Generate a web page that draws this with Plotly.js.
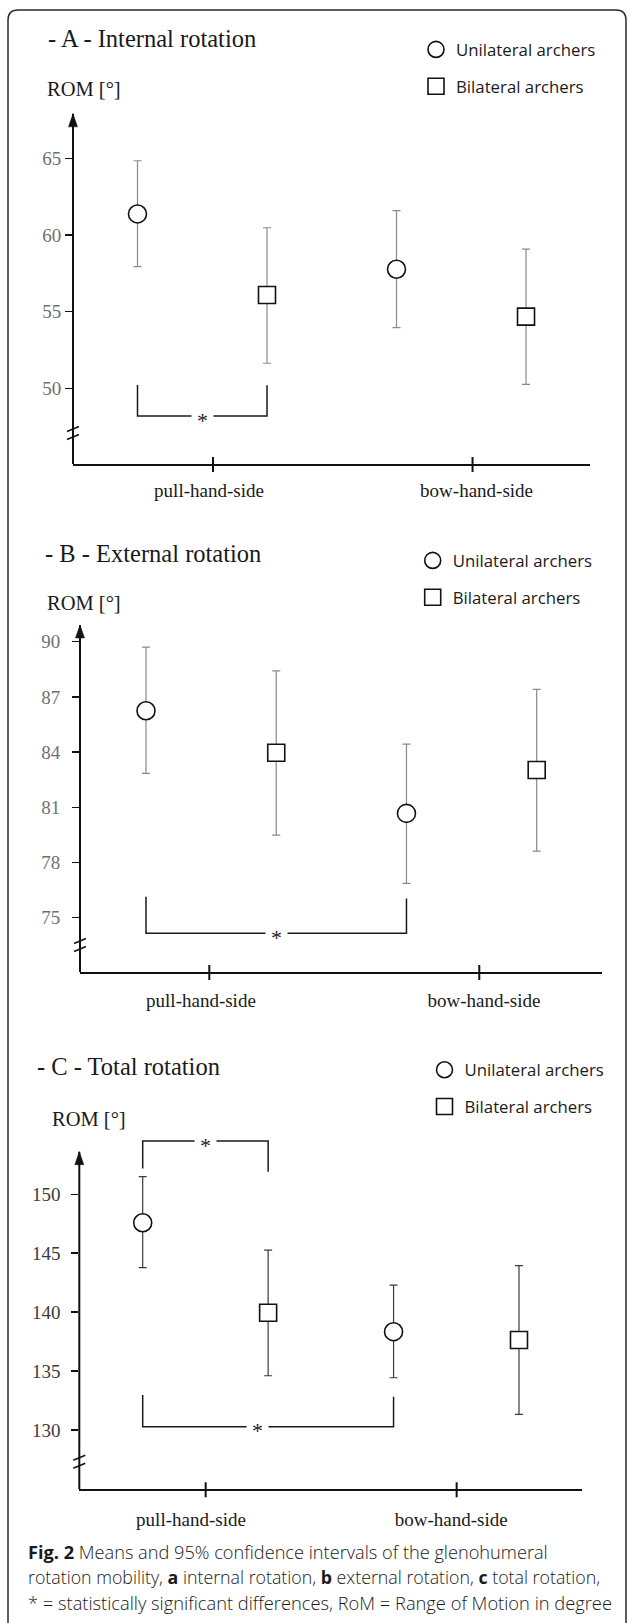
<!DOCTYPE html>
<html>
<head>
<meta charset="utf-8">
<script src="https://cdn.plot.ly/plotly-3.0.1.min.js"></script>
<style>
html, body { margin: 0; padding: 0; background: #ffffff; }
#chart { width: 627px; height: 1623px; }
</style>
</head>
<body>
<div id="chart"></div>
<script>
// ---------------- data ----------------
const sides = ['pull-hand-side', 'bow-hand-side'];
const groups = ['Unilateral archers', 'Bilateral archers'];

// A - internal rotation (mean, lower / upper 95% CI)
const intUniMean = [61.37, 57.76];
const intUniLow  = [57.93, 53.96];
const intUniHigh = [64.84, 61.58];
const intBiMean  = [56.08, 54.67];
const intBiLow   = [51.63, 50.26];
const intBiHigh  = [60.47, 59.08];
const intTicks   = [50, 55, 60, 65];

// B - external rotation
const extUniMean = [86.25, 80.67];
const extUniLow  = [82.85, 76.87];
const extUniHigh = [89.71, 84.44];
const extBiMean  = [83.97, 83.03];
const extBiLow   = [79.49, 78.62];
const extBiHigh  = [88.42, 87.41];
const extTicks   = [75, 78, 81, 84, 87, 90];

// C - total rotation
const totUniMean = [147.59, 138.34];
const totUniLow  = [143.77, 134.43];
const totUniHigh = [151.50, 142.30];
const totBiMean  = [139.95, 137.63];
const totBiLow   = [134.60, 131.32];
const totBiHigh  = [145.27, 143.94];
const totTicks   = [130, 135, 140, 145, 150];

// significance brackets: [from slot, to slot, bar level, left leg end, right leg end]
const intSig = [[1, 2, 48.19, 50.22, 50.20]];
const extSig = [[1, 3, 74.15, 76.14, 76.05]];
const totSig = [[1, 2, 154.52, 152.20, 151.92], [1, 3, 130.27, 132.96, 132.82]];

const captionLines = [
  '<b>Fig. 2</b> Means and 95% confidence intervals of the glenohumeral',
  'rotation mobility, <b>a</b> internal rotation, <b>b</b> external rotation, <b>c</b> total rotation,',
  '* = statistically significant differences, RoM = Range of Motion in degree'
];

// ---------------- layout helpers ----------------
const W = 627, H = 1623;
const X = px => px / W;
const Y = py => 1 - py / H;
const SERIF = 'Liberation Serif, Times New Roman, serif';
const SANS = 'Open Sans, Noto Sans, sans-serif';

const panels = [
  { title: '- A - Internal rotation', uni: [intUniMean, intUniLow, intUniHigh], bi: [intBiMean, intBiLow, intBiHigh],
    ticks: intTicks, sig: intSig, starShift: [0],
    dom: { x0: 73, x1: 590, y0: 108, y1: 464 }, xr: [0.502, 4.494], yr: [45.06, 68.28],
    labelPos: [1.552, 3.618], tickPos: [1.583, 3.587], tip: 67.9, brk: 47.08,
    titleXY: [46, 38], romXY: [45, 89], legXY: [436, 48],
    tickColor: '#707070', errColor: '#8a8a8a', xStand: 8, yStand: 8.5 },
  { title: '- B - External rotation', uni: [extUniMean, extUniLow, extUniHigh], bi: [extBiMean, extBiLow, extBiHigh],
    ticks: extTicks, sig: extSig, starShift: [0],
    dom: { x0: 80, x1: 602, y0: 618, y1: 972 }, xr: [0.4932, 4.5014], yr: [72.05, 91.29],
    labelPos: [1.422, 3.595], tickPos: [1.486, 3.559], tip: 90.91, brk: 73.52,
    titleXY: [43, 553], romXY: [45, 603], legXY: [432.7, 559],
    tickColor: '#707070', errColor: '#8a8a8a', xStand: 10, yStand: 8 },
  { title: '- C - Total rotation', uni: [totUniMean, totUniLow, totUniHigh], bi: [totBiMean, totBiLow, totBiHigh],
    ticks: totTicks, sig: totSig, starShift: [0, -11],
    dom: { x0: 79.3, x1: 581.7, y0: 1130, y1: 1489.3 }, xr: [0.4945, 4.5], yr: [124.96, 155.46],
    labelPos: [1.385, 3.459], tickPos: [1.502, 3.503], tip: 153.62, brk: 127.3,
    titleXY: [35, 1066], romXY: [50, 1119], legXY: [444.5, 1068.3],
    tickColor: '#3a3a3a', errColor: '#3a3a3a', xStand: 12, yStand: 7 }
];

const data = [];
const shapes = [];
const annotations = [];
const layout = {
  width: W, height: H,
  margin: { l: 0, r: 0, t: 0, b: 0, pad: 0 },
  paper_bgcolor: '#ffffff', plot_bgcolor: 'rgba(0,0,0,0)',
  font: { family: SERIF, color: '#1a1a1a' },
  showlegend: true
};

panels.forEach((p, i) => {
  const sfx = i === 0 ? '' : String(i + 1);
  const xs = 'x' + sfx, ys = 'y' + sfx;
  const leg = 'legend' + sfx;

  [p.uni, p.bi].forEach((s, g) => {
    const [mean, lo, hi] = s;
    data.push({
      type: 'scatter', mode: 'markers', name: groups[g],
      xaxis: xs, yaxis: ys, legend: leg, legendgroup: 'p' + i + 'g' + g,
      x: sides.map((_, k) => 2 * k + 1 + g),
      y: mean,
      error_y: {
        type: 'data', symmetric: false,
        array: hi.map((h, k) => h - mean[k]),
        arrayminus: lo.map((l, k) => mean[k] - l),
        color: p.errColor, thickness: 1.2, width: 4
      },
      marker: { symbol: g === 0 ? 'circle' : 'square', size: g === 0 ? 18 : 17,
                color: '#ffffff', line: { color: '#111111', width: 1.6 } },
      cliponaxis: false, hoverinfo: 'skip'
    });
  });

  layout['xaxis' + sfx] = {
    domain: [X(p.dom.x0), X(p.dom.x1)], range: p.xr, anchor: ys,
    showgrid: false, zeroline: false, showline: true, linewidth: 2, linecolor: '#111111',
    ticks: '', tickmode: 'array', tickvals: p.labelPos, ticktext: sides,
    tickfont: { family: SERIF, size: 19, color: '#1a1a1a' }, ticklabelstandoff: p.xStand,
    fixedrange: true
  };
  layout['yaxis' + sfx] = {
    domain: [Y(p.dom.y1), Y(p.dom.y0)], range: p.yr, anchor: xs,
    showgrid: false, zeroline: false, showline: false,
    ticks: 'outside', ticklen: 7, tickwidth: 1.5, tickcolor: '#111111',
    tickmode: 'array', tickvals: p.ticks,
    tickfont: { family: SERIF, size: 19, color: p.tickColor }, ticklabelstandoff: p.yStand,
    fixedrange: true
  };

  // y axis line with arrow
  shapes.push({ type: 'line', xref: 'paper', yref: ys, x0: X(p.dom.x0), x1: X(p.dom.x0),
    y0: p.yr[0], y1: p.tip, line: { color: '#111111', width: 2 } });
  shapes.push({ type: 'path', xref: 'paper', yref: ys, xsizemode: 'pixel', ysizemode: 'pixel',
    xanchor: X(p.dom.x0), yanchor: p.tip, path: 'M0,0 L-4.5,-13 L4.5,-13 Z',
    fillcolor: '#111111', line: { color: '#111111', width: 0.5 } });
  // axis break
  [[1.5, 6.5], [-6.5, -1.5]].forEach(([a, b]) => {
    shapes.push({ type: 'line', xref: 'paper', yref: ys, xsizemode: 'pixel', ysizemode: 'pixel',
      xanchor: X(p.dom.x0), yanchor: p.brk, x0: -6, x1: 6, y0: a, y1: b,
      line: { color: '#111111', width: 1.5 } });
  });
  // x tick marks crossing the axis
  p.tickPos.forEach(t => {
    shapes.push({ type: 'line', xref: xs, yref: 'paper', ysizemode: 'pixel', yanchor: Y(p.dom.y1),
      x0: t, x1: t, y0: -8, y1: 7, line: { color: '#111111', width: 2 } });
  });
  // significance brackets
  p.sig.forEach((s, j) => {
    const [a, b, yH, legL, legR] = s;
    shapes.push({ type: 'path', xref: xs, yref: ys,
      path: `M${a},${legL} L${a},${yH} L${b},${yH} L${b},${legR}`,
      line: { color: '#1a1a1a', width: 1.5 } });
    annotations.push({ xref: xs, yref: ys, x: (a + b) / 2, y: yH, text: '*',
      xshift: p.starShift[j] || 0, yshift: -4,
      font: { family: SERIF, size: 22, color: '#1a1a1a' }, showarrow: false,
      bgcolor: '#ffffff', borderpad: 5, xanchor: 'center', yanchor: 'middle' });
  });

  // titles
  annotations.push({ xref: 'paper', yref: 'paper', x: X(p.titleXY[0]), y: Y(p.titleXY[1]),
    xanchor: 'left', yanchor: 'middle', showarrow: false, text: p.title,
    font: { family: SERIF, size: 24.5, color: '#1a1a1a' } });
  annotations.push({ xref: 'paper', yref: 'paper', x: X(p.romXY[0]), y: Y(p.romXY[1]),
    xanchor: 'left', yanchor: 'middle', showarrow: false, text: 'ROM [°]',
    font: { family: SERIF, size: 20.5, color: '#1a1a1a' } });

  // legend
  layout[leg] = {
    x: X(p.legXY[0] - 20), y: Y(p.legXY[1] - 16), xanchor: 'left', yanchor: 'top',
    bgcolor: 'rgba(0,0,0,0)', borderwidth: 0,
    font: { family: SANS, size: 16.8, color: '#1a1a1a' },
    itemsizing: 'trace', traceorder: 'grouped', tracegroupgap: 12,
    itemclick: false, itemdoubleclick: false
  };
});

// outer frame
const fr = (px, py) => `${X(px)},${Y(py)}`;
shapes.push({ type: 'path', xref: 'paper', yref: 'paper',
  path: `M${fr(8, 1623)} L${fr(8, 20)} Q${fr(8, 10)} ${fr(18, 10)} L${fr(616, 10)} Q${fr(626, 10)} ${fr(626, 20)} L${fr(626, 1623)}`,
  line: { color: '#2a2a2a', width: 1.5 } });

// caption
const captionSizes = [18.2, 17.8, 18.3];
[1552, 1577, 1602].forEach((cy, k) => {
  annotations.push({ xref: 'paper', yref: 'paper', x: X(26), y: Y(cy), xanchor: 'left', yanchor: 'middle',
    showarrow: false, text: captionLines[k], align: 'left',
    font: { family: SANS, size: captionSizes[k], color: '#1a1a1a', weight: 300 } });
});

layout.shapes = shapes;
layout.annotations = annotations;

Plotly.newPlot('chart', data, layout, { staticPlot: true, displayModeBar: false });
</script>
</body>
</html>
